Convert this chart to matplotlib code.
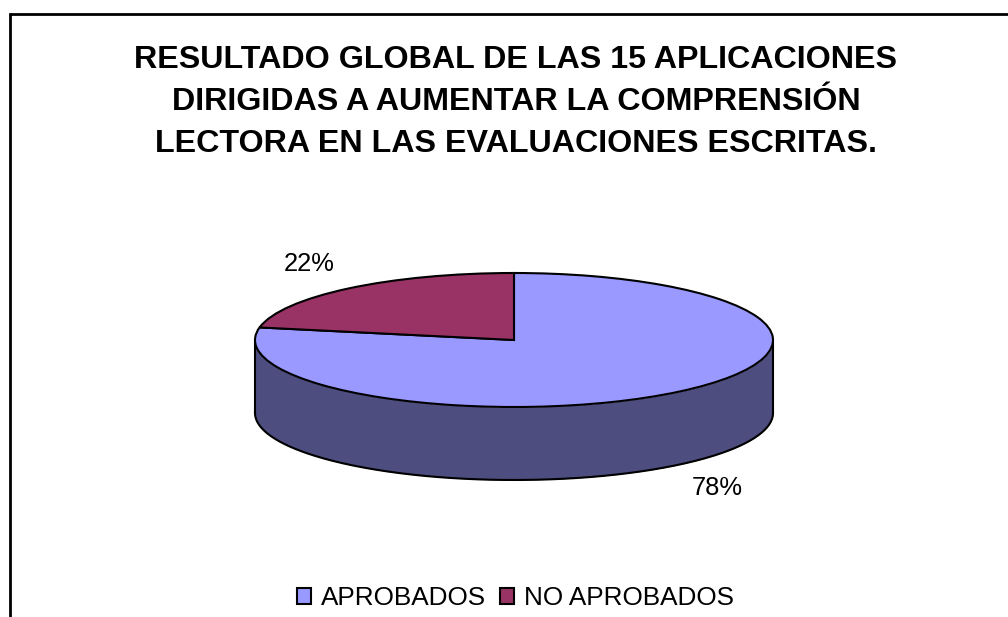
import matplotlib
matplotlib.use('Agg')
import matplotlib.pyplot as plt
from matplotlib.patches import Patch
import numpy as np

plt.rcParams['font.family'] = ['Liberation Sans', 'DejaVu Sans']

title_lines = ['RESULTADO GLOBAL DE LAS 15 APLICACIONES',
               'DIRIGIDAS A AUMENTAR LA COMPRENSIÓN',
               'LECTORA EN LAS EVALUACIONES ESCRITAS.']
categories = ['APROBADOS', 'NO APROBADOS']
percentages = [78, 22]
top_colors = ['#9999FF', '#993366']
side_color = '#4D4D80'

W, H = 1008, 617
fig = plt.figure(figsize=(W / 100, H / 100), dpi=100, facecolor='white')

# background axes in pixel coords, for the frame and the texts
bg = fig.add_axes([0, 0, 1, 1])
bg.set_xlim(0, W)
bg.set_ylim(H, 0)
bg.axis('off')
bg.plot([9.8, 9.8, W], [H, 14, 14], color='black', linewidth=2,
        solid_joinstyle='miter')

for line, y in zip(title_lines, [68, 110, 152]):
    bg.text(516, y, line, ha='center', va='baseline', fontsize=23.2,
            fontweight='bold', color='black')

bg.text(309, 271, f'{percentages[1]}%', ha='center', va='baseline', fontsize=18.4)
bg.text(717, 495, f'{percentages[0]}%', ha='center', va='baseline', fontsize=18.4)

# pie axes: x and y units squashed to get the tilted ellipse
left, right, top, middle, bottom = 255, 773, 273, 340, 480
depth = (bottom - middle) / (middle - top) - 1
ax = fig.add_axes([left / W, 1 - bottom / H, (right - left) / W, (bottom - top) / H])
wedges, _ = ax.pie(percentages, colors=top_colors, startangle=90, counterclock=False,
                   radius=1, wedgeprops={'edgecolor': 'black', 'linewidth': 1.5,
                                         'clip_on': False, 'zorder': 3})
ax.set_aspect('auto')
ax.set_xlim(-1, 1)
ax.set_ylim(-1 - depth, 1)

# side wall of the front half
theta = np.linspace(np.pi, 2 * np.pi, 300)
x, y = np.cos(theta), np.sin(theta)
ax.fill_between(x, y, y - depth, color=side_color, linewidth=0, zorder=1, clip_on=False)
ax.plot(x, y - depth, color='black', linewidth=1.5, zorder=2, clip_on=False)
ax.plot([-1, -1], [0, -depth], color='black', linewidth=1.5, zorder=2, clip_on=False)
ax.plot([1, 1], [0, -depth], color='black', linewidth=1.5, zorder=2, clip_on=False)

handles = [Patch(facecolor=c, edgecolor='black', linewidth=1.5) for c in top_colors]
bg.legend(handles, categories, loc='center', bbox_to_anchor=(515.5 / W, 1 - 598 / H),
          bbox_transform=fig.transFigure, ncol=2, frameon=False, fontsize=18.8,
          handlelength=0.55, handleheight=0.55, handletextpad=0.38,
          columnspacing=0.5, borderpad=0, borderaxespad=0)

fig.savefig('out.png', dpi=100)
